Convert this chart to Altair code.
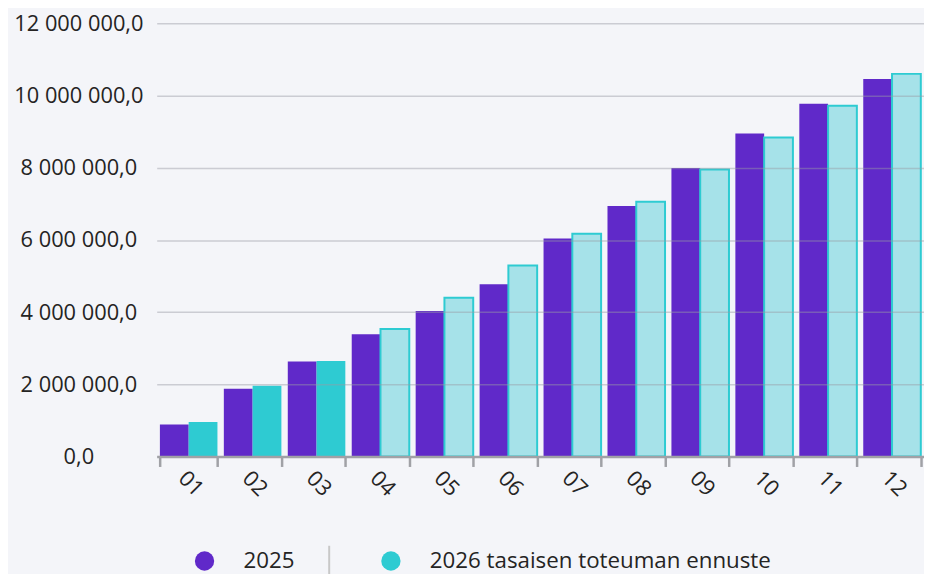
import altair as alt
import pandas as pd

months = ["01", "02", "03", "04", "05", "06", "07", "08", "09", "10", "11", "12"]
values_2025 = [890000, 1880000, 2630000, 3390000, 4030000, 4770000,
               6040000, 6940000, 7990000, 8950000, 9770000, 10460000]
values_2026 = [960000, 1960000, 2650000, 3530000, 4400000, 5290000,
               6170000, 7060000, 7950000, 8840000, 9720000, 10600000]
kind_2026 = ["toteuma"] * 3 + ["ennuste"] * 9
series_names = ["2025", "2026 tasaisen toteuman ennuste"]
y_ticks = [0, 2000000, 4000000, 6000000, 8000000, 10000000, 12000000]

rows = []
for i, m in enumerate(months):
    rows.append({"month": m, "series": series_names[0], "value": values_2025[i], "kind": "toteuma"})
    rows.append({"month": m, "series": series_names[1], "value": values_2026[i], "kind": kind_2026[i]})
df = pd.DataFrame(rows)

PURPLE = "#6029c9"
CYAN = "#2ecbd2"
LIGHT = "#a6e2e9"
GRAY = "#a0a1a6"
TEXT = "#252423"
FS = 22
LFS = 22.5

color_scale = alt.Scale(domain=series_names, range=[PURPLE, CYAN])
is_fc = alt.datum.kind == "ennuste"

bars = alt.Chart(df).mark_bar(stroke=CYAN).encode(
    x=alt.X(
        "month:N", sort=months, title=None,
        scale=alt.Scale(paddingInner=0.1, paddingOuter=0.05),
        axis=alt.Axis(
            labelAngle=45, labelAlign="left", labelBaseline="top",
            tickBand="extent", ticks=True, tickSize=10, tickWidth=2.5,
            tickColor=GRAY, domainColor=GRAY, domainWidth=2.5,
            labelPadding=1, grid=False, zindex=1,
        ),
    ),
    xOffset=alt.XOffset("series:N", sort=series_names),
    y=alt.Y(
        "value:Q", title=None,
        scale=alt.Scale(domain=[0, 12000000], nice=False),
        axis=alt.Axis(
            values=y_ticks, format=",.1f", labelAlign="center",
            labelPadding=79, ticks=False, tickSize=0, domain=False,
            gridColor="#9a9ba3", gridOpacity=0.45, gridWidth=1.5, zindex=1,
        ),
    ),
    fill=alt.condition(
        is_fc, alt.value(LIGHT),
        alt.Color(
            "series:N", scale=color_scale,
            legend=alt.Legend(
                title=None, orient="none", legendX=37, legendY=531,
                direction="horizontal", symbolType="circle", symbolSize=380,
                symbolStrokeWidth=0, labelFontSize=LFS, labelColor=TEXT,
                labelOffset=28, columnPadding=86, padding=0, labelLimit=0,
            ),
        ),
    ),
    strokeWidth=alt.condition(is_fc, alt.value(2), alt.value(0)),
)

sep = alt.Chart(pd.DataFrame({"a": [0]})).mark_rule(color="#c8c8c8", strokeWidth=2).encode(
    x=alt.value(174), y=alt.value(527), y2=alt.value(560)
)

chart = alt.layer(bars, sep).properties(
    width=774, height=437,
    autosize=alt.AutoSizeParams(type="none"),
    padding={"left": 150, "top": 13, "right": 0, "bottom": 116},
    background="#f4f5f9",
).configure(
    font="Open Sans",
    locale={"number": {"decimal": ",", "thousands": " ", "grouping": [3], "currency": ["", " €"]}},
).configure_view(
    stroke=None
).configure_axis(
    labelFontSize=FS, labelColor=TEXT, labelFont="Open Sans"
).configure_legend(
    labelFont="Open Sans"
)

chart.save("out.html", embed_options={"renderer": "svg", "actions": False})
